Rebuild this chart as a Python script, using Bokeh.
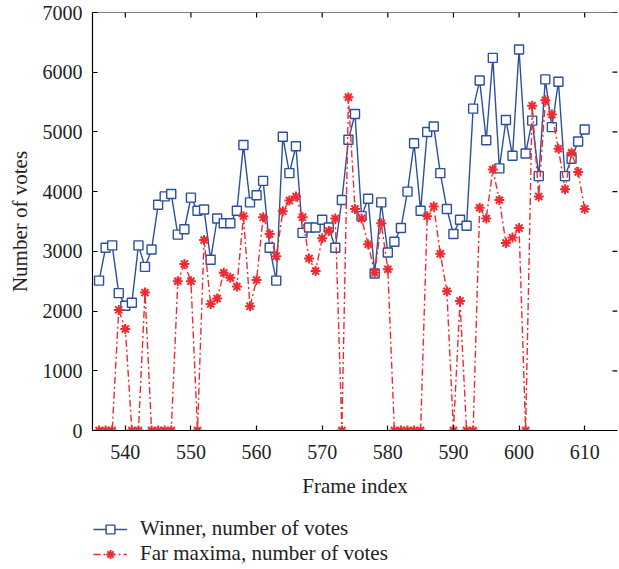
import math
from bokeh.plotting import figure
from bokeh.layouts import column
from bokeh.models import Legend, LegendItem, Range1d, FixedTicker, Span
from bokeh.embed import file_html
from bokeh.resources import INLINE

frames = list(range(536, 611))
winner_votes = [2510, 3060, 3100, 2300, 2090, 2140, 3100, 2740, 3030, 3780,
                3920, 3960, 3280, 3370, 3900, 3680, 3700, 2860, 3550, 3470,
                3470, 3680, 4780, 3820, 3940, 4180, 3060, 2510, 4920, 4310,
                4760, 3310, 3400, 3400, 3530, 3400, 3060, 3860, 4870, 5300,
                3590, 3880, 2630, 3820, 2980, 3160, 3390, 4000, 4810, 3680,
                5000, 5090, 4310, 3710, 3290, 3530, 3430, 5390, 5860, 4860,
                6240, 4390, 5200, 4600, 6380, 4640, 5190, 4260, 5880, 5080,
                5840, 4260, 4550, 4840, 5040]
far_maxima_votes = [0, 0, 0, 2020, 1700, 0, 0, 2310, 0, 0,
                    0, 0, 2500, 2790, 2500, 0, 3190, 2120, 2210, 2640,
                    2560, 2410, 3590, 2080, 2520, 3570, 3290, 2920, 3670, 3850,
                    3920, 3570, 2880, 2670, 3220, 3340, 3550, 0, 5580, 3710,
                    3550, 3120, 2640, 3470, 2700, 0, 0, 0, 0, 0,
                    3590, 3750, 2960, 2330, 0, 2170, 0, 0, 3730, 3550,
                    4370, 3860, 3140, 3230, 3390, 0, 5440, 3920, 5530, 5290,
                    4720, 4040, 4650, 4330, 3710]
x_ticks = [540, 550, 560, 570, 580, 590, 600, 610]
y_ticks = [0, 1000, 2000, 3000, 4000, 5000, 6000, 7000]
labels = ["Winner, number of votes", "Far maxima, number of votes"]
x_lo, x_hi = 535, 615
y_lo, y_hi = 0, 7000

BLUE = "#2c4f9f"
RED = "#ef2a30"
FONT = "Liberation Serif"
TEXT = "#222222"

p = figure(width=619, height=505, x_range=Range1d(x_lo, x_hi), y_range=Range1d(y_lo, y_hi),
           output_backend="svg", toolbar_location=None,
           min_border_left=92, min_border_right=2, min_border_top=12, min_border_bottom=75)
p.outline_line_color = None
p.grid.visible = False
p.background_fill_color = "white"
p.border_fill_color = "white"


def style_axis(ax, ticks):
    ax.ticker = FixedTicker(ticks=ticks)
    ax.major_tick_in = 5
    ax.major_tick_out = 0
    ax.minor_tick_line_color = None
    ax.axis_line_color = "black"
    ax.axis_line_width = 1.2
    ax.major_tick_line_color = "black"
    ax.major_tick_line_width = 1.2
    ax.major_label_text_font = FONT
    ax.major_label_text_color = TEXT
    ax.major_label_text_font_size = "20px"
    ax.axis_label_text_font = FONT
    ax.axis_label_text_font_style = "normal"
    ax.axis_label_text_color = TEXT
    ax.axis_label_text_font_size = "21px"


xa = p.xaxis[0]
style_axis(xa, x_ticks)
xa.major_label_standoff = 14
xa.axis_label = "Frame index"
xa.axis_label_standoff = 12

ya = p.yaxis[0]
style_axis(ya, y_ticks)
ya.major_label_standoff = 10
ya.axis_label = "Number of votes"
ya.axis_label_standoff = 8

# top frame line and inward ticks on top / right sides
p.add_layout(Span(location=y_hi, dimension="width", line_color="black", line_width=1.2))
p.ray(x=x_ticks, y=[y_hi] * len(x_ticks), length=5, length_units="screen",
      angle=-math.pi / 2, line_color="black", line_width=1.2)
p.ray(x=[x_hi] * len(y_ticks), y=y_ticks, length=5, length_units="screen",
      angle=math.pi, line_color="black", line_width=1.2)

line_kw_w = dict(line_color=BLUE, line_width=1.4)
mark_kw_w = dict(marker="square", size=9, fill_color="white", line_color=BLUE, line_width=1.4)
line_kw_f = dict(line_color=RED, line_width=1.4, line_dash="7 3 2 3")
mark_kw_f = dict(marker="asterisk", size=10, line_color=RED, line_width=2)

p.line(frames, winner_votes, **line_kw_w)
p.scatter(frames, winner_votes, **mark_kw_w)
p.line(frames, far_maxima_votes, **line_kw_f)
p.scatter(frames, far_maxima_votes, **mark_kw_f)

# legend strip below the chart (same series; ranges keep the marks out of view)
lg = figure(width=619, height=64, x_range=Range1d(0, 1), y_range=Range1d(-2, -1),
            output_backend="svg", toolbar_location=None,
            x_axis_location=None, y_axis_location=None,
            min_border_left=0, min_border_right=0, min_border_top=0, min_border_bottom=0)
lg.outline_line_color = None
lg.grid.visible = False
lg.background_fill_color = "white"
lg.border_fill_color = "white"
l1 = lg.line(frames, winner_votes, **line_kw_w)
s1 = lg.scatter(frames, winner_votes, **mark_kw_w)
l2 = lg.line(frames, far_maxima_votes, **line_kw_f)
s2 = lg.scatter(frames, far_maxima_votes, **mark_kw_f)

legend = Legend(items=[LegendItem(label=labels[0], renderers=[l1, s1]),
                       LegendItem(label=labels[1], renderers=[l2, s2])],
                location=(1, 3), orientation="vertical")
legend.border_line_color = None
legend.background_fill_alpha = 0
legend.label_text_font = FONT
legend.label_text_font_size = "21px"
legend.label_text_color = TEXT
legend.glyph_width = 34
legend.glyph_height = 22
legend.label_height = 22
legend.spacing = 0
legend.label_standoff = 13
legend.padding = 0
legend.margin = 0
lg.add_layout(legend, "center")

layout = column(p, lg, spacing=0)
open("out.html", "w").write(file_html(layout, INLINE))
